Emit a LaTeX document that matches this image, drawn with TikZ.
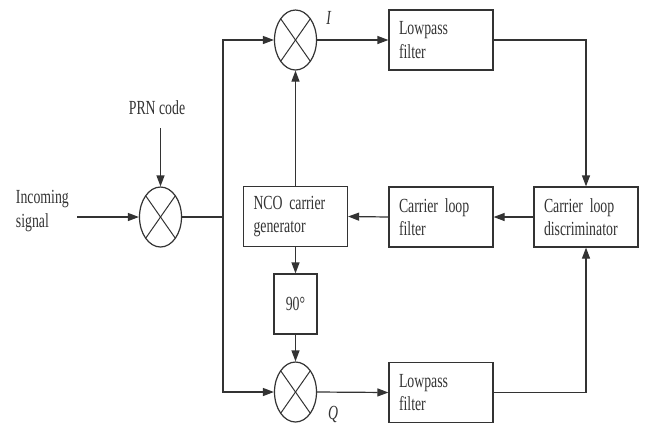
\documentclass[tikz,border=0pt]{standalone}
\usepackage{fontspec}
\setmainfont[FakeStretch=0.69]{Liberation Serif}
\usetikzlibrary{arrows.meta,positioning,calc,shapes.geometric}
\newcommand{\labfont}{\fontsize{20}{23.3}\selectfont}

\begin{document}
\begin{tikzpicture}[x=1pt,y=-1pt,color=black!80,line width=1.2pt,
  lab/.style={font=\labfont},
  box/.style={draw,rectangle,minimum height=60pt,lab},
  wide/.style={box,minimum width=104pt,text width=84pt,inner xsep=10pt,align=left},
  mix/.style={draw,ellipse,minimum width=42pt,minimum height=60pt,inner sep=0pt},
  sig/.style={-{Triangle[length=11pt,width=8pt]}}]

\useasboundingbox (0,0) rectangle (647,424);

%% mixers
\node[mix] (mixL) at (160.5,217) {};
\node[mix] (mixI) at (295.5,40) {};
\node[mix] (mixQ) at (295.5,392) {};
\foreach \m in {mixL,mixI,mixQ} {
  \draw[line width=1pt] ($(\m)+(-14.8,-21.2)$) -- ($(\m)+(14.8,21.2)$);
  \draw[line width=1pt] ($(\m)+(-14.8,21.2)$) -- ($(\m)+(14.8,-21.2)$);
}

%% blocks
\node[wide] (lpI) at (441,40) {Lowpass\\filter};
\node[wide] (lpQ) at (441,392.5) {Lowpass\\filter};
\node[wide] (clf) at (441,217) {Carrier loop\\filter};
\node[wide] (disc) at (586,217) {Carrier loop\\discriminator};
\node[wide,minimum width=103pt] (nco) at (295.5,216.5) {NCO carrier\\generator};
\node[box,minimum width=43pt] (ph90) at (295.5,304) {90°};

%% labels
\node[lab,anchor=west,align=left] (inlab) at (12,211) {Incoming\\signal};
\node[lab] (prnlab) at (157,108) {PRN code};
\node[lab] (Ilab) at (329,18) {\textit{I}};
\node[lab] (Qlab) at (333,414) {\textit{Q}};

%% connectors
\coordinate (inp) at (77,217);
\coordinate (prn) at (160.5,128);
\coordinate (br) at (223,217);
\draw[sig] (inp) -- (mixL.west);
\draw[sig] (prn) -- (mixL.north);
\draw (mixL.east) -- (br);
\draw[sig] (br) |- (mixI.west);
\draw[sig] (br) |- (mixQ.west);
\draw[sig] (mixI.east) -- (lpI.west);
\draw[sig] (mixQ.east) -- (lpQ.west);
\draw[sig] (lpI.east) -| (disc.north);
\draw[sig] (lpQ.east) -| (disc.south);
\draw[sig] (disc.west) -- (clf.east);
\draw[sig] (clf.west) -- (nco.east);
\draw[sig] (nco.north) -- (mixI.south);
\draw[sig] (nco.south) -- (ph90.north);
\draw[sig] (ph90.south) -- (mixQ.north);
\end{tikzpicture}
\end{document}
